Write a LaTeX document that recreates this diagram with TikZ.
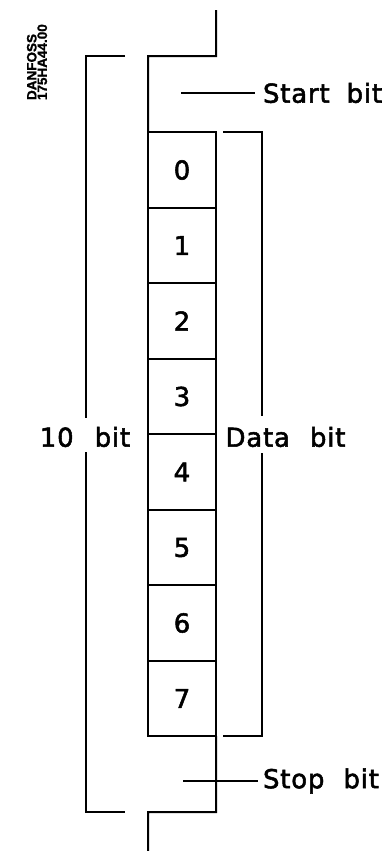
\documentclass[tikz,border=0pt]{standalone}
\usepackage{fontspec}
\setmainfont{DejaVu Sans}[LetterSpace=3,FakeBold=2]
\newfontfamily\tagfont{Liberation Sans}[FakeBold=1.5]
\begin{document}
\begin{tikzpicture}[x=1bp,y=-1bp,line width=2bp,line cap=butt,
  cell/.style={draw,minimum width=68bp,inner sep=0pt,outer sep=0pt,
    font=\fontsize{26bp}{30bp}\selectfont},
  lbl/.style={inner sep=0pt,font=\fontsize{26bp}{30bp}\selectfont},
  tag/.style={inner sep=0pt,font=\tagfont\bfseries\fontsize{13.5bp}{10.5bp}\selectfont,align=left}]
\useasboundingbox (0,0) rectangle (388,851);
\foreach \i/\a/\b in {0/132/208,1/208/283,2/283/359,3/359/434,4/434/510,5/510/585,6/585/661,7/661/736}{
  \node[cell,minimum height={(\b-\a)*1bp}] (c\i) at (182,{(\a+\b)/2}) {\i};
}
% signal line
\coordinate (sTop) at (216,10);
\coordinate (sA) at (216,56);
\coordinate (sB) at (148,56);
\coordinate (sC) at (216,812);
\coordinate (sD) at (148,812);
\coordinate (sBot) at (148,851);
\draw (sTop) -- (sA) -- (sB) -- (c0.north west);
\draw (c7.south east) -- (sC) -- (sD) -- (sBot);
% 10 bit bracket
\node[lbl] (tenbit) at (85,437) {10\hspace{21bp}bit};
\coordinate (lA) at (125,56);
\coordinate (lB) at (86,56);
\coordinate (lB2) at (86,418);
\coordinate (lC2) at (86,452);
\coordinate (lC) at (86,812);
\coordinate (lD) at (125,812);
\draw (lA) -- (lB) -- (lB2);
\draw (lC2) -- (lC) -- (lD);
% data bit bracket
\node[lbl] (databit) at (285.5,437) {Data\hspace{20bp}bit};
\coordinate (dA) at (223,132);
\coordinate (dB) at (262,132);
\coordinate (dB2) at (262,416);
\coordinate (dC2) at (262,453);
\coordinate (dC) at (262,736);
\coordinate (dD) at (223,736);
\draw (dA) -- (dB) -- (dB2);
\draw (dC2) -- (dC) -- (dD);
% start / stop
\node[lbl,anchor=west] (start) at (262,93) {Start\hspace{17bp}bit};
\coordinate (st) at (181,93);
\draw (st) -- ([xshift=-7bp]start.west);
\node[lbl,anchor=west] (stop) at (262,781) {Stop\hspace{19bp}bit};
\coordinate (sp) at (183,781);
\draw (sp) -- ([xshift=-4bp]stop.west);
% tag
\node[tag,rotate=90,anchor=west] (tagnode) at (37,101) {DANFOSS\\175HA44.00};
\end{tikzpicture}
\end{document}
